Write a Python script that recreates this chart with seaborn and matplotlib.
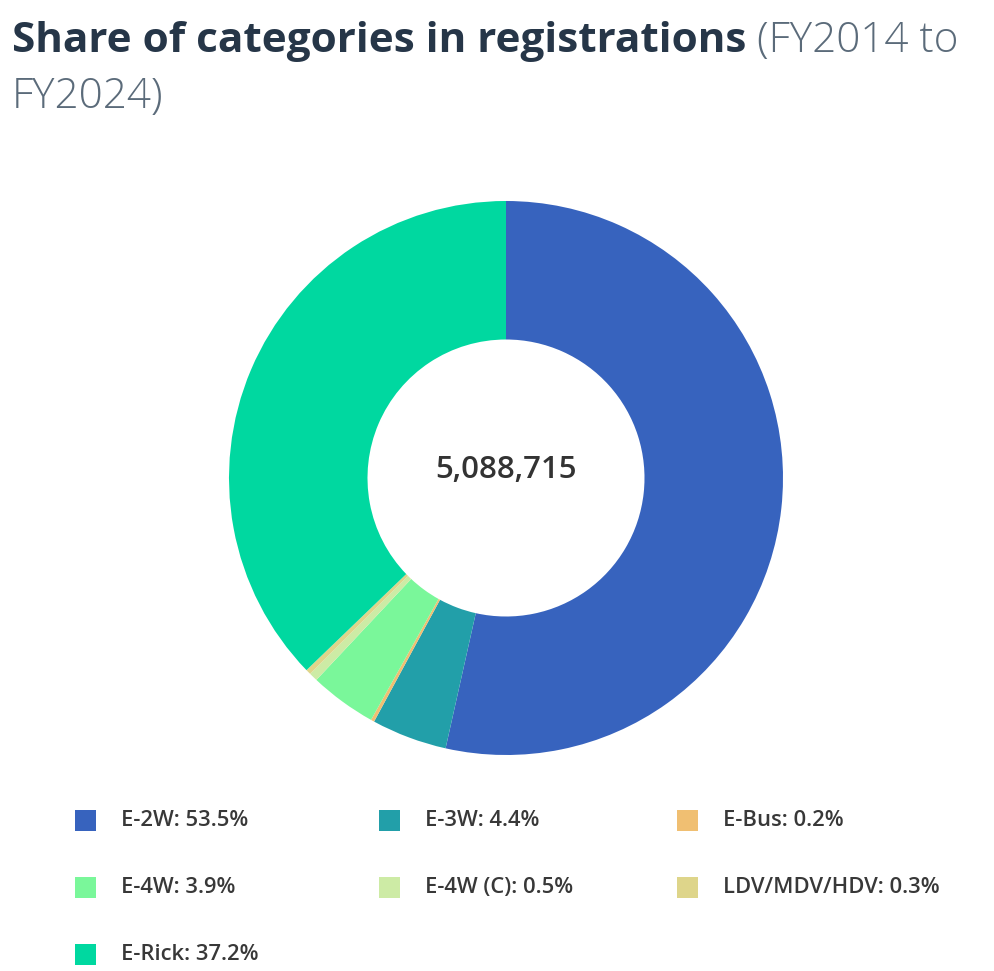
import matplotlib.pyplot as plt
import seaborn as sns
from matplotlib.patches import Rectangle

# Dados
categorias = ['E-2W', 'E-3W', 'E-Bus', 'E-4W', 'E-4W (C)', 'LDV/MDV/HDV', 'E-Rick']
participacao = [53.5, 4.4, 0.2, 3.9, 0.5, 0.3, 37.2]
cores = ['#3763BE', '#229FA9', '#F0BF72', '#7AF79A', '#CDEBA5', '#DED58A', '#00D8A0']
total_registros = 5088715

sns.set_theme(style="white")
plt.rcParams['font.family'] = ['Open Sans', 'DejaVu Sans']

fig = plt.figure(figsize=(9.94, 9.71), dpi=100)

# Donut: centro ~ (506, 478) px, raio ~ 277 px
W, H = 994, 971
cx, cy, r = 506, 478, 277
ax = fig.add_axes([(cx - r) / W, (H - cy - r) / H, 2 * r / W, 2 * r / H])
ax.pie(participacao, colors=cores, startangle=90, counterclock=False,
       radius=1.0, wedgeprops=dict(width=0.5, linewidth=0))
ax.set_xlim(-1, 1)
ax.set_ylim(-1, 1)
ax.set_axis_off()
ax.text(0, 0.03, f"{total_registros:,}", ha='center', va='center',
        fontsize=22.5, fontweight=600, color='#333333')

# Título em duas partes (negrito + leve)
titulo = fig.text(12 / W, 1 - 52 / H, 'Share of categories in registrations',
                  fontsize=30.4, fontweight='bold', color='#263648',
                  ha='left', va='baseline')
fig.canvas.draw()
bb = titulo.get_window_extent()
fig.text((bb.x1 + 11) / W, 1 - 52 / H, '(FY2014 to', fontsize=30.4,
         fontweight='light', color='#5B6B7A', ha='left', va='baseline')
fig.text(12 / W, 1 - 108 / H, 'FY2024)', fontsize=30.4,
         fontweight='light', color='#5B6B7A', ha='left', va='baseline')

# Legenda manual em grade 3 colunas
col_x = [75, 379, 677]
row_y = [820, 887, 954]
for i, (cat, val, cor) in enumerate(zip(categorias, participacao, cores)):
    lx = col_x[i % 3]
    ly = row_y[i // 3]
    fig.patches.append(Rectangle((lx / W, 1 - (ly + 10.5) / H), 21 / W, 21 / H,
                                 transform=fig.transFigure, facecolor=cor,
                                 edgecolor='none', figure=fig))
    fig.text((lx + 46) / W, 1 - ly / H, f"{cat}: {val}%", fontsize=15.8,
             color='#383838', ha='left', va='center', fontweight=600)

fig.savefig('out.png', dpi=100)
plt.close(fig)
